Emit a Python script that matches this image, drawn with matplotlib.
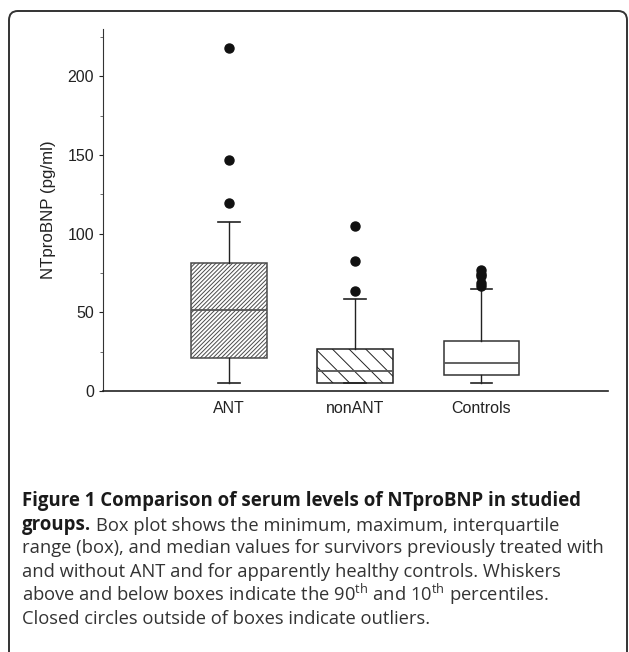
import matplotlib
matplotlib.use('Agg')
import matplotlib.pyplot as plt
import matplotlib.patches as patches
from matplotlib.ticker import MultipleLocator

# group summary statistics (pg/ml)
groups = ['ANT', 'nonANT', 'Controls']
q1 = [21.2, 4.9, 9.9]
medians = [51.2, 12.7, 17.6]
q3 = [81.5, 26.5, 32.0]
whisk_lo = [4.9, 4.9, 4.9]
whisk_hi = [107.1, 58.2, 65.0]
outliers = [
    [119.2, 146.5, 218.2],
    [63.5, 82.8, 104.8],
    [67.0, 68.8, 73.0, 74.5, 76.8],
]
hatches = ['////////', '\\\\', '']
edge_colors = ['#4a4a4a', '#222222', '#333333']

plt.rcParams['hatch.linewidth'] = 0.7
plt.rcParams['mathtext.fontset'] = 'custom'
plt.rcParams['mathtext.rm'] = 'Open Sans'

W, H = 629, 652
fig = plt.figure(figsize=(W / 100, H / 100), dpi=100)
fig.patch.set_facecolor('white')

# rounded frame around the whole figure panel
frame = patches.FancyBboxPatch(
    (9 / W, -0.02), (627 - 9) / W, 1 - 11 / H + 0.02,
    boxstyle="round,pad=0,rounding_size=0.014",
    transform=fig.transFigure, fc='none', ec='#333333', lw=1.4, zorder=0)
fig.patches.append(frame)

ax = fig.add_axes([102.5 / W, 1 - 391 / H, (607.7 - 102.5) / W, (391 - 29) / H])

stats = []
for i, name in enumerate(groups):
    stats.append(dict(label=name, q1=q1[i], med=medians[i], q3=q3[i],
                      whislo=whisk_lo[i], whishi=whisk_hi[i], fliers=outliers[i]))

bp = ax.bxp(stats, positions=[1, 2, 3], widths=0.6, capwidths=0.17,
            patch_artist=True, showfliers=True,
            whiskerprops=dict(color='#222222', lw=1.0),
            capprops=dict(color='#222222', lw=1.2),
            medianprops=dict(color='#555555', lw=1.3),
            flierprops=dict(marker='o', markerfacecolor='#111111',
                            markeredgecolor='#111111', markersize=6.5))

for box, h, ec in zip(bp['boxes'], hatches, edge_colors):
    box.set_facecolor('white')
    box.set_edgecolor(ec)
    box.set_hatch(h)
    box.set_linewidth(1.1)

ax.set_xlim(0, 4)
ax.set_ylim(0, 230)
ax.yaxis.set_major_locator(MultipleLocator(50))
ax.yaxis.set_minor_locator(MultipleLocator(25))
ax.spines['top'].set_visible(False)
ax.spines['right'].set_visible(False)
ax.spines['left'].set_color('#333333')
ax.spines['bottom'].set_color('#222222')
ax.spines['bottom'].set_linewidth(1.2)
ax.tick_params(axis='y', which='major', length=3, width=0.8, pad=3,
               labelsize=11.5, colors='#222222')
ax.tick_params(axis='y', which='minor', length=2, width=0.6, colors='#555555')
ax.tick_params(axis='x', length=0, pad=7, labelsize=11.5, colors='#222222')
for lab in ax.get_xticklabels() + ax.get_yticklabels():
    lab.set_fontfamily('Liberation Sans')
ax.set_ylabel('NTproBNP (pg/ml)', fontsize=12.2, fontfamily='Liberation Sans',
              color='#222222', labelpad=8)

# caption
x0 = 22 / W
bold_size = 13.4
cap_size = 13.2
fig.text(x0, 1 - 506 / H, 'Figure 1 Comparison of serum levels of NTproBNP in studied',
         fontsize=bold_size, fontweight='bold', fontfamily='Open Sans',
         color='#1a1a1a', va='baseline', ha='left')
t_grp = fig.text(x0, 1 - 530 / H, 'groups.', fontsize=bold_size, fontweight='bold',
                 fontfamily='Open Sans', color='#1a1a1a', va='baseline', ha='left')
ax.annotate('Box plot shows the minimum, maximum, interquartile',
            xy=(1, 0), xycoords=t_grp, xytext=(3.5, 0), textcoords='offset points',
            fontsize=cap_size, fontfamily='Open Sans', color='#333333',
            va='bottom', ha='left', annotation_clip=False)
rest = [
    'range (box), and median values for survivors previously treated with',
    'and without ANT and for apparently healthy controls. Whiskers',
    r'above and below boxes indicate the 90$^{\mathrm{th}}$ and 10$^{\mathrm{th}}$ percentiles.',
    'Closed circles outside of boxes indicate outliers.',
]
baselines = [553, 577, 601, 624]
for line, yb in zip(rest, baselines):
    fig.text(x0, 1 - yb / H, line, fontsize=cap_size, fontfamily='Open Sans',
             color='#333333', va='baseline', ha='left')

fig.savefig('out.png', dpi=100)
plt.close(fig)
